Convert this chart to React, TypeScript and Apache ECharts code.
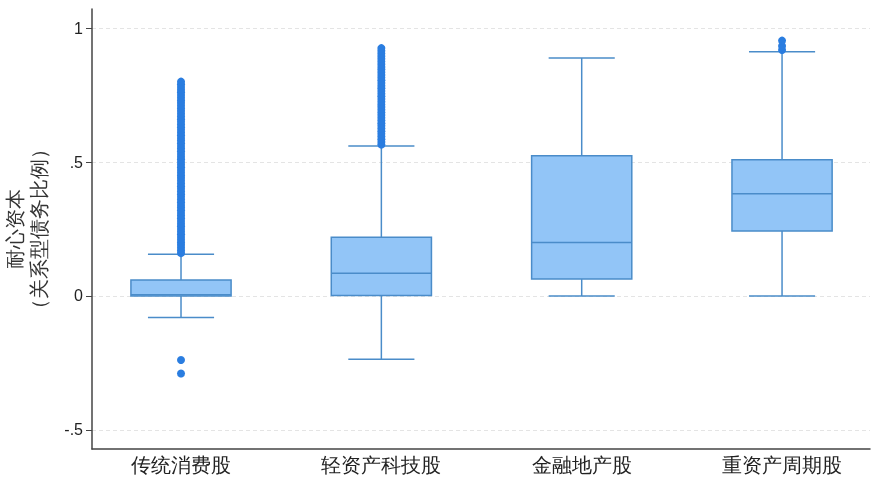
import React, { useEffect, useRef } from "react";
import * as echarts from "echarts";

const categories = ["传统消费股", "轻资产科技股", "金融地产股", "重资产周期股"];
// [min whisker, Q1, median, Q3, max whisker]
const boxStats = [
  [-0.08, 0.0, 0.005, 0.06, 0.156],
  [-0.236, 0.002, 0.085, 0.219, 0.56],
  [0.0, 0.063, 0.2, 0.523, 0.888],
  [0.0, 0.243, 0.382, 0.508, 0.911],
];
const outliers1 = [
  -0.239, -0.289,
  0.16, 0.17, 0.18, 0.19, 0.2, 0.21, 0.22, 0.23, 0.24, 0.25, 0.26, 0.27, 0.28, 0.29,
  0.3, 0.31, 0.32, 0.33, 0.34, 0.35, 0.36, 0.37, 0.38, 0.39, 0.4, 0.41, 0.42, 0.43,
  0.44, 0.45, 0.46, 0.47, 0.48, 0.49, 0.5, 0.51, 0.52, 0.53, 0.54, 0.55, 0.56, 0.57,
  0.58, 0.59, 0.6, 0.61, 0.62, 0.63, 0.64, 0.65, 0.66, 0.67, 0.68, 0.69, 0.7, 0.71,
  0.72, 0.73, 0.74, 0.75, 0.76, 0.77, 0.78, 0.79, 0.8,
];
const outliers2 = [
  0.565, 0.575, 0.585, 0.595, 0.605, 0.615, 0.625, 0.635, 0.645, 0.655, 0.665, 0.675,
  0.685, 0.695, 0.705, 0.715, 0.725, 0.735, 0.745, 0.755, 0.765, 0.775, 0.785, 0.795,
  0.805, 0.815, 0.825, 0.835, 0.845, 0.855, 0.865, 0.875, 0.885, 0.895, 0.905, 0.915,
  0.925,
];
const outliers3: number[] = [];
const outliers4 = [0.918, 0.933, 0.953];
const yTicks = [-0.5, 0, 0.5, 1];
const yTickLabels = ["-.5", "0", ".5", "1"];

const BOX_FILL = "#92c5f7";
const BOX_STROKE = "#4a8cc9";
const DOT = "#2a7de0";

export default function App() {
  const ref = useRef<HTMLDivElement>(null);
  useEffect(() => {
    document.body.style.margin = "0";
    const chart = echarts.init(ref.current!, null, { renderer: "svg" });
    const boxData = boxStats.map((s, i) => [i + 1, ...s]);
    const outlierSets = [outliers1, outliers2, outliers3, outliers4];
    const dotData: number[][] = [];
    outlierSets.forEach((arr, i) => arr.forEach((v) => dotData.push([i + 1, v])));

    chart.setOption({
      animation: false,
      grid: { left: 92, right: 3, top: 9, bottom: 32, containLabel: false, outerBoundsMode: "none" },
      xAxis: {
        type: "value",
        min: 0.5557,
        max: 4.439,
        axisLine: { show: true, onZero: false, lineStyle: { color: "#444", width: 1.5 } },
        axisTick: { show: false },
        splitLine: { show: false },
        axisLabel: {
          customValues: [1, 2, 3, 4],
          formatter: (v: number) => categories[Math.round(v) - 1] ?? "",
          fontFamily: "serif",
          fontSize: 20,
          color: "#222",
          margin: 6,
        },
      },
      yAxis: {
        type: "value",
        min: -0.571,
        max: 1.071,
        name: "耐心资本\n（关系型债务比例）",
        nameLocation: "middle",
        nameRotate: 90,
        nameGap: 41,
        nameTextStyle: { fontFamily: "serif", fontSize: 20, lineHeight: 24, color: "#333" },
        axisLine: { show: true, onZero: false, lineStyle: { color: "#444", width: 1.5 } },
        axisTick: { show: true, length: 6, customValues: yTicks, lineStyle: { color: "#444" } },
        axisLabel: {
          customValues: yTicks,
          formatter: (v: number) => {
            const i = yTicks.findIndex((t) => Math.abs(t - v) < 1e-6);
            return i >= 0 ? yTickLabels[i] : "";
          },
          fontFamily: "Liberation Sans",
          fontSize: 16,
          color: "#222",
          margin: 9,
        },
        splitLine: { show: true, lineStyle: { color: "#e4e4e4", type: [4, 3], width: 1 } },
      },
      series: [
        {
          type: "custom",
          data: boxData,
          encode: { x: 0, y: [1, 2, 3, 4, 5] },
          renderItem: (params: any, api: any) => {
            const x = api.value(0);
            const pMin = api.coord([x, api.value(1)]);
            const pQ1 = api.coord([x, api.value(2)]);
            const pMed = api.coord([x, api.value(3)]);
            const pQ3 = api.coord([x, api.value(4)]);
            const pMax = api.coord([x, api.value(5)]);
            const band = api.size([1, 0])[0];
            const bw = band * 0.5;
            const cw = band * 0.33;
            const cx = pMed[0];
            const ls = { stroke: BOX_STROKE, lineWidth: 1.5 };
            return {
              type: "group",
              children: [
                { type: "line", shape: { x1: cx, y1: pQ3[1], x2: cx, y2: pMax[1] }, style: ls },
                { type: "line", shape: { x1: cx, y1: pQ1[1], x2: cx, y2: pMin[1] }, style: ls },
                { type: "line", shape: { x1: cx - cw / 2, y1: pMax[1], x2: cx + cw / 2, y2: pMax[1] }, style: ls },
                { type: "line", shape: { x1: cx - cw / 2, y1: pMin[1], x2: cx + cw / 2, y2: pMin[1] }, style: ls },
                {
                  type: "rect",
                  shape: { x: cx - bw / 2, y: pQ3[1], width: bw, height: pQ1[1] - pQ3[1] },
                  style: { fill: BOX_FILL, stroke: BOX_STROKE, lineWidth: 1.5 },
                },
                { type: "line", shape: { x1: cx - bw / 2, y1: pMed[1], x2: cx + bw / 2, y2: pMed[1] }, style: ls },
              ],
            };
          },
        },
        {
          type: "scatter",
          data: dotData,
          symbol: "circle",
          symbolSize: 8,
          itemStyle: { color: DOT, opacity: 1 },
        },
      ],
    });
    return () => chart.dispose();
  }, []);
  return <div ref={ref} style={{ position: "fixed", left: 0, top: 0, width: 873, height: 481 }} />;
}
